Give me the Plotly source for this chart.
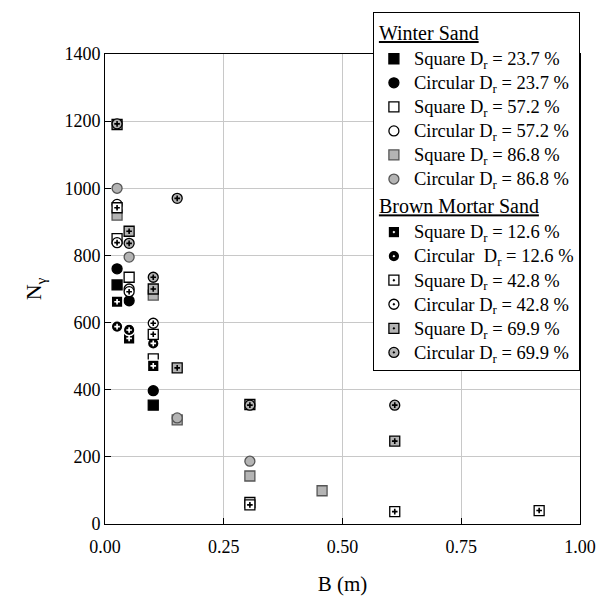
import plotly.graph_objects as go

FONT = "Liberation Serif, Times New Roman, serif"

# ---- data: B (m) and N_gamma per series ----
ws_sq237_B = [0.0254, 0.1016]
ws_sq237_N = [712, 354]
ws_ci237_B = [0.0254, 0.0508, 0.1016]
ws_ci237_N = [760, 665, 397]
ws_sq572_B = [0.0254, 0.0508, 0.1016, 0.305]
ws_sq572_N = [850, 735, 492, 64]
ws_ci572_B = [0.0254, 0.0508]
ws_ci572_N = [952, 700]
ws_sq868_B = [0.0254, 0.1016, 0.152, 0.305, 0.457]
ws_sq868_N = [920, 682, 310, 143, 99]
ws_ci868_B = [0.0254, 0.0508, 0.152, 0.305]
ws_ci868_N = [1000, 795, 316, 187]

bm_sq126_B = [0.0254, 0.0508, 0.1016]
bm_sq126_N = [662, 553, 471]
bm_ci126_B = [0.0254, 0.0508, 0.1016]
bm_ci126_N = [588, 578, 538]
bm_sq428_B = [0.0254, 0.1016, 0.305, 0.61, 0.914]
bm_sq428_N = [942, 565, 57, 37, 40]
bm_ci428_B = [0.0254, 0.0508, 0.1016]
bm_ci428_N = [838, 692, 598]
bm_sq699_B = [0.0254, 0.0508, 0.1016, 0.152, 0.305, 0.61]
bm_sq699_N = [1190, 872, 700, 465, 356, 247]
bm_ci699_B = [0.0254, 0.0508, 0.1016, 0.152, 0.305, 0.61]
bm_ci699_N = [1192, 836, 735, 970, 354, 354]

x_ticks = [0, 0.25, 0.5, 0.75, 1.0]
x_tick_labels = ["0.00", "0.25", "0.50", "0.75", "1.00"]
y_ticks = [0, 200, 400, 600, 800, 1000, 1200, 1400]

GREY = "#b4b4b4"

series = [
    # name, B, N, symbol, fill, line, glyph color (None = no glyph), group, size
    ("Square D<sub>r</sub> = 23.7 %", ws_sq237_B, ws_sq237_N, "square", "black", "black", None, "ws", 10),
    ("Circular D<sub>r</sub> = 23.7 %", ws_ci237_B, ws_ci237_N, "circle", "black", "black", None, "ws", 10),
    ("Square D<sub>r</sub> = 57.2 %", ws_sq572_B, ws_sq572_N, "square", "white", "black", None, "ws", 10),
    ("Circular D<sub>r</sub> = 57.2 %", ws_ci572_B, ws_ci572_N, "circle", "white", "black", None, "ws", 10),
    ("Square D<sub>r</sub> = 86.8 %", ws_sq868_B, ws_sq868_N, "square", GREY, "#555555", None, "ws", 10),
    ("Circular D<sub>r</sub> = 86.8 %", ws_ci868_B, ws_ci868_N, "circle", GREY, "#555555", None, "ws", 10),
    ("Square D<sub>r</sub> = 12.6 %", bm_sq126_B, bm_sq126_N, "square-dot", "black", "white", "white", "bm", 11.5),
    ("Circular  D<sub>r</sub> = 12.6 %", bm_ci126_B, bm_ci126_N, "circle-dot", "black", "white", "white", "bm", 11.5),
    ("Square D<sub>r</sub> = 42.8 %", bm_sq428_B, bm_sq428_N, "square-dot", "white", "black", "black", "bm", 10),
    ("Circular D<sub>r</sub> = 42.8 %", bm_ci428_B, bm_ci428_N, "circle-dot", "white", "black", "black", "bm", 10),
    ("Square D<sub>r</sub> = 69.9 %", bm_sq699_B, bm_sq699_N, "square-dot", GREY, "black", "black", "bm", 10),
    ("Circular D<sub>r</sub> = 69.9 %", bm_ci699_B, bm_ci699_N, "circle-dot", GREY, "black", "black", "bm", 10),
]

fig = go.Figure()
first = {"ws": True, "bm": True}
titles = {"ws": "Winter Sand", "bm": "Brown Mortar Sand"}
for name, B, N, sym, fill, line, glyph, grp, msize in series:
    kw = {}
    if first[grp]:
        kw["legendgrouptitle"] = dict(
            text='<span style="font-size:20px"><u>' + titles[grp] + '</u></span>',
            font=dict(family=FONT, size=20, color="black"))
        first[grp] = False
    fig.add_trace(go.Scatter(
        x=B, y=N, mode="markers",
        name='<span style="font-size:18.5px">' + name + '</span>',
        legendgroup=grp,
        marker=dict(symbol=sym, size=msize, color=fill,
                    line=dict(color=line, width=1.3)),
        **kw))
    if glyph is not None:
        fig.add_trace(go.Scatter(
            x=B, y=N, mode="markers", legendgroup=grp, showlegend=False,
            hoverinfo="skip",
            marker=dict(symbol="cross-thin", size=4, color=glyph,
                        line=dict(color=glyph, width=1.6))))

fig.update_layout(
    width=598, height=599,
    margin=dict(l=105, r=18, t=54, b=75, autoexpand=False),
    paper_bgcolor="white", plot_bgcolor="white",
    font=dict(family=FONT, size=17, color="black"),
    showlegend=True,
    legend=dict(x=0.564, y=1.09, xanchor="left", yanchor="top",
                bgcolor="white", bordercolor="black", borderwidth=1,
                font=dict(family=FONT, size=16.2, color="black"),
                tracegroupgap=0, itemsizing="trace", maxheight=590),
)
fig.update_xaxes(range=[0, 1], tickvals=x_ticks, ticktext=x_tick_labels,
                 showgrid=True, gridcolor="#c8c8c8", gridwidth=1,
                 showline=True, linecolor="black", linewidth=1, mirror=True,
                 ticks="inside", ticklen=6, tickcolor="black", zeroline=False,
                 ticklabelstandoff=6, automargin=False,
                 tickfont=dict(family=FONT, size=18),
                 title=dict(text="B (m)", font=dict(family=FONT, size=21), standoff=20))
fig.update_yaxes(range=[0, 1400], tickvals=y_ticks,
                 showgrid=True, gridcolor="#c8c8c8", gridwidth=1,
                 showline=True, linecolor="black", linewidth=1, mirror=True,
                 ticks="inside", ticklen=6, tickcolor="black", zeroline=False,
                 automargin=False,
                 tickfont=dict(family=FONT, size=18),
                 title=dict(text="N<sub>γ</sub>", font=dict(family=FONT, size=22), standoff=16))

fig.write_html("out.html")
